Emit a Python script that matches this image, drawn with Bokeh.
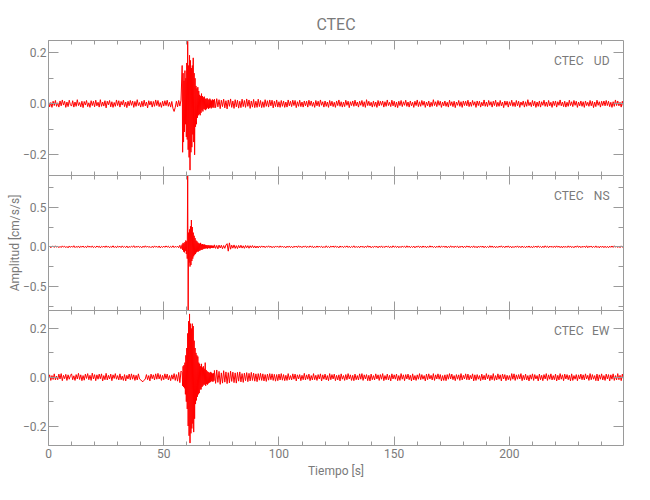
import numpy as np
from bokeh.plotting import figure
from bokeh.models import Label, LinearAxis, FixedTicker, SingleIntervalTicker, Range1d, PrintfTickFormatter, Title
from bokeh.layouts import column
from bokeh.embed import file_html
from bokeh.resources import INLINE

# ---------------- data (amplitudes in units of 0.001 cm/s/s) ----------------
SCALE = 0.001
PRE_T0, PRE_DT = 0.0, 0.5
BURST_T0, BURST_DT = 58.0, 0.2
POST_T0, POST_DT = 72.0, 0.5

ud_pre = [8,-12,5,-14,10,-7,13,-10,4,-13,11,-8,15,-5,10,-14,7,-11,14,-4,
          -9,12,-13,7,-10,16,-7,5,-12,10,-15,9,-5,13,-11,4,-14,12,-7,10,
          -12,14,-8,6,-13,16,-10,7,-9,12,-16,10,-4,13,-12,8,-14,5,-10,15,
          -7,12,-13,9,-5,14,-11,7,-15,10,-8,13,-6,11,-14,9,-10,16,-7,5,
          -13,10,-11,14,-8,7,-16,12,-5,10,-13,9,-10,15,-7,13,-11,5,-14,10,
          -9,12,-7,14,-10,6,-13,9,-18,-30,-14,10,-12,13,-9,14]
ud_burst = [150,-190,120,-150,90,-110,130,-80,100,-130,160,-140,245,-180,150,-210,190,-260,170,-190,
            140,-170,150,-120,180,-150,120,-200,100,-90,70,-80,60,-55,65,-45,50,-40,35,-45,
            30,-35,40,-25,30,-30,25,-20,28,-22,20,-25,18,-20,22,-15,18,-20,15,-17,
            20,-14,16,-18,12,-15,17,-12,14,-16]
ud_post = [18,-15,20,-12,16,-19,14,-11,18,-16,12,-20,15,-10,19,-14,11,-18,16,-12,
           14,-17,10,-15,18,-11,13,-14,19,-10,15,-18,11,-13,17,-15,10,-14,18,-11,
           13,-15,8,-14,16,-10,12,-13,15,-8,14,-16,10,-11,15,-13,8,-14,13,-10,
           11,-14,7,-13,15,-8,10,-11,14,-7,13,-15,8,-10,14,-11,7,-13,11,-8,
           10,-13,14,-7,11,-10,6,-14,13,-8,10,-11,15,-6,8,-13,11,-10,7,-14,
           13,-8,10,-11,6,-14,11,-7,15,-10,8,-13,7,-11,14,-6,10,-15,8,-7,
           11,-10,14,-8,7,-13,10,-6,13,-11,8,-14,16,-7,10,-8,6,-13,11,-10,
           7,-14,13,-8,10,-6,11,-13,8,-10,15,-7,6,-11,14,-8,10,-13,7,-15,
           10,-7,13,-11,8,-6,14,-10,7,-13,11,-8,6,-14,10,-7,15,-11,8,-10,
           13,-6,10,-14,7,-8,11,-13,6,-10,16,-7,8,-11,13,-6,10,-14,7,-8,
           11,-10,6,-13,14,-7,8,-11,10,-15,7,-6,13,-10,8,-14,11,-7,10,-8,
           14,-11,7,-10,13,-6,8,-14,11,-7,10,-13,6,-8,15,-10,7,-11,13,-6,
           8,-13,10,-7,14,-11,6,-10,13,-8,7,-15,11,-6,10,-13,8,-7,14,-10,
           6,-11,13,-8,10,-14,7,-6,11,-13,8,-10,16,-7,6,-11,13,-8,10,-14,
           7,-10,11,-13,8,-6,14,-10,7,-11,13,-8,6,-14,10,-7,11,-13,8,-6,
           15,-8,7,-11,10,-13,6,-10,14,-7,8,-11,13,-6,10,-14,7,-8,11,-10,
           8,-14,11,-7,6,-10,13,-8,10,-15,7,-11,14,-6,8,-13,10,-7,11,-8,
           13,-7,10,-11,6,-14,8,-10,15,-7,11,-8,6,-13,10,-11,7,-14,13,-8]

ns_pre = [-6,10,-12,4,9,-8,13,-5,7,-11,6,-9,12,-4,8,-10,5,-13,11,-7,
          9,-6,14,-10,5,-8,11,-12,7,-4,10,-9,6,-11,13,-5,8,-7,12,-10,
          4,-9,11,-6,8,-13,7,-5,10,-8,12,-6,9,-11,5,-7,13,-9,6,-12,
          10,-4,8,-10,12,-7,5,-9,11,-13,6,-8,9,-5,14,-10,7,-6,11,-9,
          5,-12,9,-7,13,-6,10,-8,4,-11,8,-10,12,-5,7,-9,11,-14,6,-8,
          10,-7,12,-5,9,-11,6,-8,13,-10,7,-6,9,-12,20,-25]
ns_burst = [30,-40,50,-60,40,-70,60,-50,80,-90,70,-150,1000,-950,180,-200,220,-250,260,-230,
            340,-180,250,-150,180,-120,140,-100,110,-90,80,-70,70,-60,55,-60,45,-50,40,-45,
            50,-35,30,-40,35,-30,28,-25,30,-22,25,-20,22,-18,20,-22,18,-16,20,-18,
            15,-20,17,-14,16,-15,14,-16,13,-12]
ns_post = [25,-20,18,-26,22,-15,20,-24,16,-19,23,40,-55,50,-30,21,-17,24,-20,15,
           -22,18,-14,20,-16,13,-19,17,-12,15,-18,14,-11,16,-13,12,-15,10,-14,11,
           -9,12,-6,10,-11,8,-5,13,-7,9,-12,6,-10,11,-4,8,-9,12,-6,10,
           -8,5,-13,9,-7,11,-10,6,-12,8,-5,10,-9,13,-6,7,-11,9,-4,12,
           -10,7,-8,12,-5,9,-13,6,-9,11,-7,10,-6,8,-12,5,-10,13,-8,6,
           -11,9,-4,10,-8,12,-7,5,-13,11,-6,9,-10,7,-5,12,-9,8,-11,6,
           -7,13,-10,6,-9,8,-12,10,-5,7,-11,9,-8,14,-6,10,-12,5,-9,11,
           -6,8,-13,9,-7,12,-10,5,-8,11,-4,9,-12,7,-10,13,-6,8,-9,10,
           -12,6,-9,11,-5,8,-10,13,-7,9,-11,6,-8,10,-13,7,-5,12,-9,8,
           -10,11,-6,9,-12,7,-8,13,-5,10,-9,6,-11,8,-7,12,-10,9,-4,11,
           -8,10,-12,6,-9,13,-7,8,-10,11,-5,9,-13,7,-6,10,-11,8,-9,12,
           -5,9,-11,7,-8,12,-10,6,-13,9,-7,11,-6,10,-12,8,-9,5,-10,13,
           -7,11,-9,8,-12,6,-10,9,-5,13,-8,7,-11,10,-6,12,-9,8,-13,6,
           -10,8,-6,12,-9,7,-11,10,-8,5,-12,9,-7,11,-10,6,-13,8,-5,10,
           -9,12,-7,6,-11,9,-10,13,-6,8,-12,10,-5,7,-9,11,-8,12,-6,9,
           -11,7,-13,10,-8,6,-9,12,-7,11,-10,5,-12,9,-6,13,-8,10,-11,7,
           -6,10,-9,13,-12,8,-5,11,-10,7,-8,12,-9,6,-13,10,-7,9,-11,8,
           -10,6,-12,9,-7,11,-8,13,-6,10,-9,7,-11,12,-5,8,-10,9,-12,7]

ew_pre = [-5,10,-13,7,-9,14,-11,5,-10,13,-7,15,-14,8,-6,12,-13,10,-8,7,
          14,-10,6,-13,11,-7,16,-9,10,-14,7,-12,13,-5,15,-10,8,-13,17,-7,
          11,-14,10,-8,13,-6,14,-15,7,-10,16,-11,8,-7,13,-14,10,-5,15,-8,
          7,-11,14,-10,5,-13,11,-15,8,-7,13,-10,14,-8,10,-13,8,-11,14,-7,
          -10,-16,-18,-12,-7,11,-10,7,-15,13,-6,10,-11,14,-8,16,-7,11,-13,8,
          -10,14,-6,13,-11,7,-14,10,-8,15,-13,11,-16,20,-22,25]
ew_burst = [20,-35,45,-40,50,-45,60,-70,90,-100,120,-130,180,-200,230,-240,260,-270,220,-230,
            200,-210,220,-190,210,-225,150,-170,120,-110,100,-95,90,-80,85,-70,60,-65,55,-50,
            45,-50,55,-40,40,-35,45,-30,35,-30,60,-35,30,-28,25,-30,22,-25,20,-22,
            18,-20,22,-16,18,-17,15,-18,16,-14]
ew_post = [28,-25,30,-21,24,-29,18,-24,27,-20,22,-26,19,-23,25,-17,21,-22,18,-24,
           20,-16,22,-19,15,-21,17,-14,19,-18,16,-15,20,-13,17,-16,14,-18,15,-12,
           16,-13,14,-15,11,-17,13,-12,15,-10,14,-13,12,-16,11,-14,13,-11,15,-12,
           11,-14,8,-13,15,-10,7,-11,14,-8,13,-15,10,-7,11,-14,8,-10,16,-11,
           10,-8,13,-14,7,-11,15,-10,8,-13,11,-7,14,-15,10,-8,13,-11,7,-14,
           15,-10,11,-7,13,-14,8,-11,10,-15,14,-8,7,-13,11,-10,15,-7,10,-13,
           8,-14,13,-10,7,-11,14,-8,15,-13,10,-7,11,-14,8,-15,13,-10,7,-11,
           14,-7,10,-13,11,-8,15,-14,7,-10,13,-11,8,-15,14,-7,10,-8,13,-14,
           7,-13,15,-8,10,-14,11,-7,13,-10,8,-15,14,-11,7,-13,10,-8,15,-10,
           11,-8,7,-15,13,-10,14,-7,8,-11,15,-13,10,-7,14,-8,11,-15,7,-13,
           10,-14,11,-8,15,-7,13,-10,7,-14,11,-8,10,-13,15,-11,8,-7,14,-10,
           13,-11,8,-7,14,-15,10,-13,11,-8,7,-14,13,-10,8,-11,15,-7,10,-14,
           8,-10,15,-13,7,-11,14,-8,10,-15,13,-7,11,-14,8,-10,7,-13,15,-8,
           14,-13,10,-8,11,-7,15,-14,8,-10,13,-11,7,-15,10,-8,14,-13,11,-7,
           7,-15,13,-10,8,-14,11,-7,15,-13,10,-8,14,-11,7,-10,13,-15,8,-11,
           15,-8,10,-14,13,-7,11,-10,8,-15,14,-13,7,-8,11,-14,10,-7,13,-10,
           10,-11,14,-7,8,-13,15,-10,11,-8,7,-14,13,-15,10,-8,14,-11,7,-13,
           13,-7,11,-15,10,-8,14,-13,7,-11,15,-10,8,-14,13,-7,10,-11,14,-8]

station = "CTEC"
components = ["UD", "NS", "EW"]
y_ranges = [(-0.281, 0.248), (-0.807, 0.904), (-0.280, 0.274)]
y_major = [[-0.2, 0.0, 0.2], [-0.5, 0.0, 0.5], [-0.2, 0.0, 0.2]]
y_minor = [[-0.1, 0.1], [-0.75, -0.25, 0.25, 0.75], [-0.1, 0.1]]
y_labels = [{-0.2: "\u22120.2", 0.0: "0.0", 0.2: "0.2"},
            {-0.5: "\u22120.5", 0.0: "0.0", 0.5: "0.5"},
            {-0.2: "\u22120.2", 0.0: "0.0", 0.2: "0.2"}]
x_max = 249.5
x_major_step = 50
title_text = "CTEC"
x_title = "Tiempo [s]"
y_title = "Amplitud [cm/s/s]"


def build(pre, burst, post):
    t = np.concatenate([PRE_T0 + PRE_DT * np.arange(len(pre)),
                        BURST_T0 + BURST_DT * np.arange(len(burst)),
                        POST_T0 + POST_DT * np.arange(len(post))])
    y = np.array(pre + burst + post, dtype=float) * SCALE
    return t, y


traces = [build(ud_pre, ud_burst, ud_post),
          build(ns_pre, ns_burst, ns_post),
          build(ew_pre, ew_burst, ew_post)]

# ---------------- styling ----------------
FONT = "Roboto"
AX = "#9a9a9a"
TXT = "#7a7a7a"
RED = "#ff0000"
LEFT, RIGHT, TOP, BOTTOM = 48, 11, 40, 40
FW, FH = 575, 135

xr = Range1d(0, x_max)


def style_axis(ax, labels, yaxis):
    ax.axis_line_color = AX
    ax.major_tick_line_color = AX
    ax.minor_tick_line_color = AX
    ax.major_tick_out = 0
    ax.minor_tick_out = 0
    ax.major_tick_in = 10 if yaxis else 9
    ax.minor_tick_in = 5 if yaxis else 4
    if labels:
        ax.major_label_text_font = FONT
        ax.major_label_text_font_size = "12px"
        ax.major_label_text_color = TXT
        ax.major_label_standoff = 2 if yaxis else 3
    else:
        ax.major_label_text_font_size = "0px"
        ax.major_label_text_color = None
        ax.major_label_standoff = 0


figs = []
for i in range(3):
    top = TOP if i == 0 else 0
    bottom = BOTTOM if i == 2 else 0
    p = figure(width=LEFT + FW + RIGHT, height=top + FH + bottom,
               x_range=xr, y_range=Range1d(*y_ranges[i]),
               output_backend="svg", toolbar_location=None,
               x_axis_location=None, y_axis_location=None,
               min_border_left=LEFT, min_border_right=RIGHT,
               min_border_top=top, min_border_bottom=bottom)
    p.grid.visible = False
    p.outline_line_color = None
    p.background_fill_color = "white"
    p.border_fill_color = "white"

    for side in ["left", "right"]:
        ax = LinearAxis(ticker=FixedTicker(ticks=y_major[i], minor_ticks=y_minor[i]),
                        formatter=PrintfTickFormatter(format="%.1f"))
        style_axis(ax, side == "left", True)
        if side == "left":
            ax.major_label_overrides = y_labels[i]
            # same label on every panel keeps the frames aligned; only the middle one is shown
            ax.axis_label = y_title
            ax.axis_label_text_font = FONT
            ax.axis_label_text_font_size = "12px"
            ax.axis_label_text_font_style = "normal"
            ax.axis_label_standoff = -2
            ax.axis_label_text_color = TXT if i == 1 else None
        p.add_layout(ax, side)
    for side in ["above", "below"]:
        ax = LinearAxis(ticker=SingleIntervalTicker(interval=x_major_step, num_minor_ticks=5))
        labelled = side == "below" and i == 2
        style_axis(ax, labelled, False)
        if labelled:
            ax.axis_label = x_title
            ax.axis_label_text_font = FONT
            ax.axis_label_text_font_size = "12px"
            ax.axis_label_text_font_style = "normal"
            ax.axis_label_text_color = TXT
            ax.axis_label_standoff = 3
        p.add_layout(ax, side)

    t, y = traces[i]
    p.line(t, y, line_color=RED, line_width=1)

    p.add_layout(Label(x=FW - 40, y=FH - 20.5, x_units="screen", y_units="screen",
                       text=station, text_font=FONT,
                       text_font_size="12px", text_color=TXT,
                       text_align="right", text_baseline="middle"))
    p.add_layout(Label(x=FW - 14, y=FH - 20.5, x_units="screen", y_units="screen",
                       text=components[i], text_font=FONT,
                       text_font_size="12px", text_color=TXT,
                       text_align="right", text_baseline="middle"))
    figs.append(p)

figs[0].title = Title(text=title_text, align="center", text_font=FONT,
                      text_font_size="16px", text_font_style="normal",
                      text_color=TXT, standoff=13)

layout = column(*figs, spacing=0)
open("out.html", "w").write(file_html(layout, INLINE))
